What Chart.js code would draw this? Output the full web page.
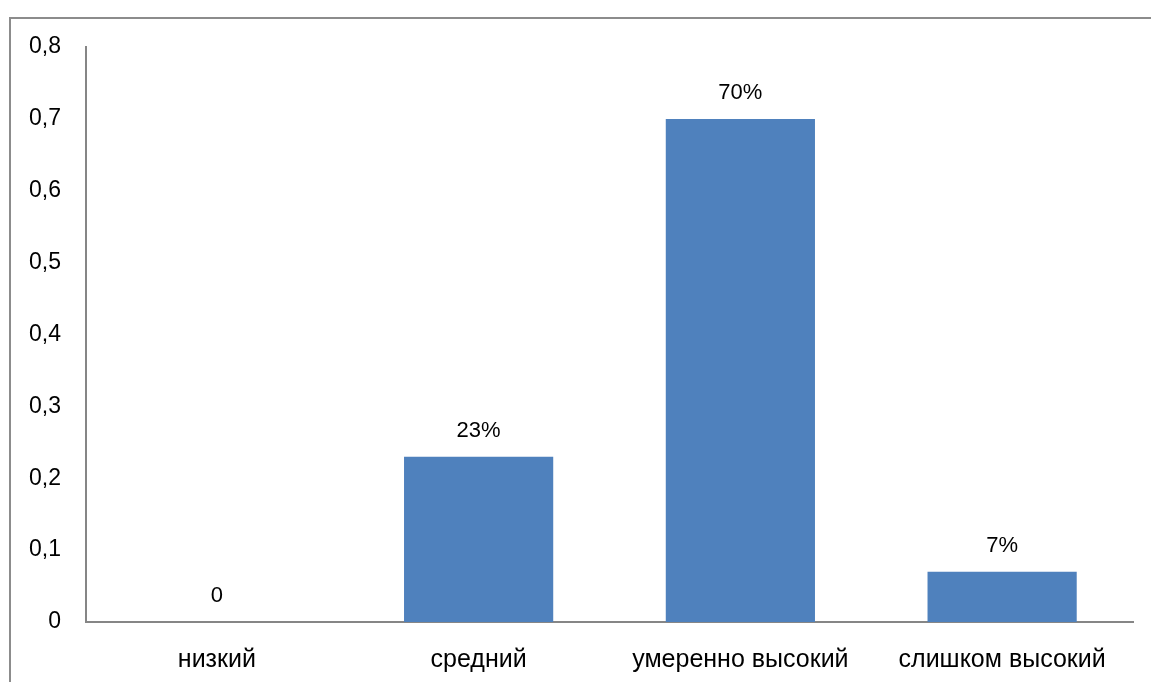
<!DOCTYPE html>
<html>
<head>
<meta charset="utf-8">
<script src="https://cdn.jsdelivr.net/npm/chart.js@4"></script>
<style>
  html, body { margin: 0; padding: 0; background: #ffffff; }
  #wrap { width: 1151px; height: 682px; position: relative; }
</style>
</head>
<body>
<div id="wrap"><canvas id="c"></canvas></div>
<script>
const categories = ['низкий', 'средний', 'умеренно высокий', 'слишком высокий'];
const values = [0, 0.23, 0.70, 0.07];
const valueLabels = ['0', '23%', '70%', '7%'];
const yTickLabels = ['0', '0,1', '0,2', '0,3', '0,4', '0,5', '0,6', '0,7', '0,8'];

const FONT = "'Liberation Sans', Arial, sans-serif";

const frame = {
  id: 'frame',
  beforeDraw(chart) {
    const ctx = chart.ctx;
    ctx.save();
    ctx.fillStyle = '#ffffff';
    ctx.fillRect(0, 0, chart.width, chart.height);
    ctx.strokeStyle = '#8c8c8c';
    ctx.lineWidth = 2;
    ctx.strokeRect(10, 18, chart.width + 20, chart.height + 20);
    ctx.restore();
  }
};

const barLabels = {
  id: 'barLabels',
  afterDatasetsDraw(chart) {
    const ctx = chart.ctx;
    const meta = chart.getDatasetMeta(0);
    ctx.save();
    ctx.fillStyle = '#000000';
    ctx.font = "22px " + FONT;
    ctx.textAlign = 'center';
    ctx.textBaseline = 'middle';
    meta.data.forEach((bar, i) => {
      ctx.fillText(valueLabels[i], bar.x, bar.y - 26);
    });
    ctx.restore();
  }
};

new Chart(document.getElementById('c'), {
  type: 'bar',
  data: {
    labels: categories,
    datasets: [{
      data: values,
      backgroundColor: '#4F81BD',
      borderWidth: 0,
      barPercentage: 0.57,
      categoryPercentage: 1.0
    }]
  },
  options: {
    responsive: true,
    maintainAspectRatio: false,
    animation: false,
    events: [],
    layout: { padding: { top: 47, right: 18, bottom: 0, left: 0 } },
    plugins: { legend: { display: false }, tooltip: { enabled: false } },
    scales: {
      x: {
        grid: { display: false, drawTicks: false },
        border: { display: true, color: '#868686', width: 2 },
        ticks: { color: '#000000', font: { family: FONT, size: 25 }, padding: 23, maxRotation: 0, autoSkip: false },
        afterFit(scale) { scale.height = 60; }
      },
      y: {
        min: 0, max: 0.8,
        grid: { display: false, drawTicks: false },
        border: { display: true, color: '#868686', width: 2 },
        ticks: {
          stepSize: 0.1,
          color: '#000000',
          font: { family: FONT, size: 23 },
          padding: 25,
          callback: (v, i) => yTickLabels[i]
        },
        afterFit(scale) { scale.width = 86; }
      }
    }
  },
  plugins: [frame, barLabels]
});
</script>
</body>
</html>
